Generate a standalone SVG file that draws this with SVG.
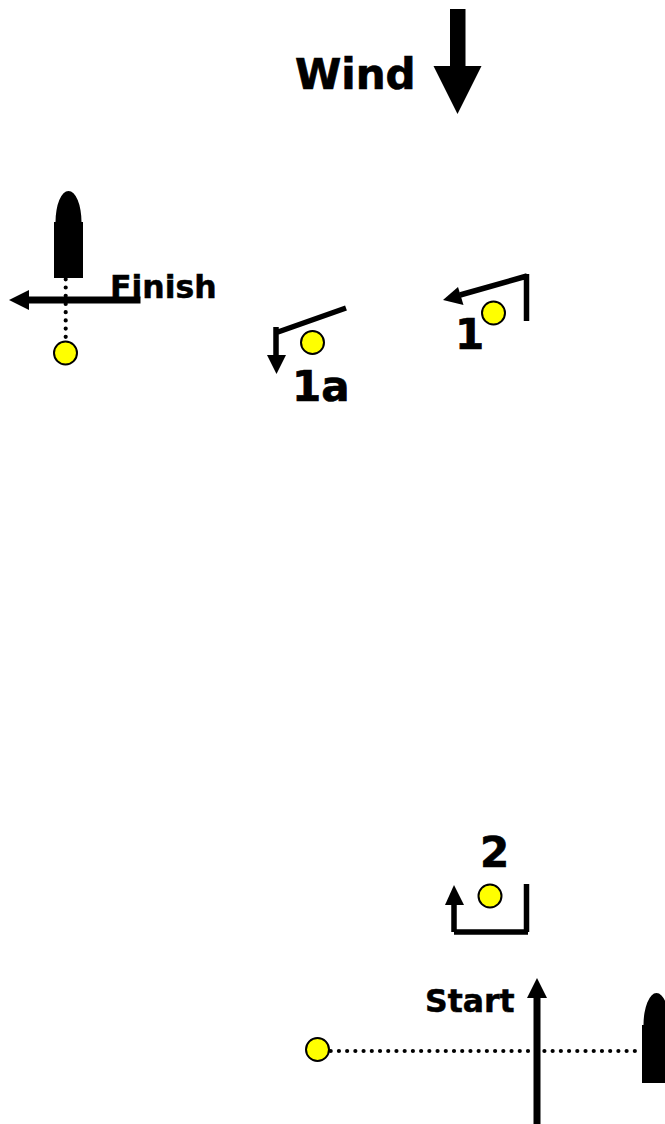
<svg xmlns="http://www.w3.org/2000/svg" width="665" height="1124" viewBox="0 0 665 1124">
<style>
text{font-family:"DejaVu Sans",sans-serif;font-weight:bold;fill:#000;stroke:#000;stroke-width:.7px}
.big{font-size:42px}.mid{font-size:31.5px;stroke-width:.5px}
.mark{fill:#ff0;stroke:#000;stroke-width:2}
.line{fill:none;stroke:#000;stroke-width:5.500}
.thick{fill:none;stroke:#000;stroke-width:7}
.dots{fill:none;stroke:#000;stroke-width:4.200;stroke-linecap:round;stroke-dasharray:0 8.220}
</style>
<defs>
<path id="boat" d="M0 31V87H29V31H27.500A13 31 0 0 0 1.500 31Z"/>
</defs>
<rect width="665" height="1124" fill="#fff"/>
<g id="connectors">
<path class="dots" d="M65.700 279.300V338"/>
<path class="dots" d="M330.700 1051H638"/>
<path class="thick" d="M140.500 300H28"/><path d="M9 300L29 290V310Z"/>
<path class="thick" d="M537 1124V996"/><path d="M537 978L547 998H527Z"/>
<path class="line" d="M526.500 321V274M527 276L460 295"/><path d="M443 300L458 287L463.500 305Z"/>
<path class="line" d="M346 308L278 332M276 327V356"/><path d="M276.500 374L267 355H286Z"/>
<path class="line" d="M526.500 884V932M528 932H454M454 932V903"/><path d="M454 885L464 905H445Z"/>
</g>
<g id="wind"><text class="big" x="295" y="89">Wind</text><path d="M450 9H465.500V66H481.500L457.500 114L433.500 66H450Z"/></g>
<g id="finish-boat"><use href="#boat" x="54" y="191"/></g>
<g id="start-boat"><use href="#boat" transform="translate(642 993) scale(1 1.034)"/></g>
<g id="finish"><text class="mid" x="110" y="298">Finish</text></g>
<g id="start"><text class="mid" x="425" y="1012">Start</text></g>
<g id="finish-mark"><circle class="mark" cx="65.500" cy="353" r="11.500"/></g>
<g id="start-mark"><circle class="mark" cx="317.500" cy="1049.500" r="11.500"/></g>
<g id="mark-1"><circle class="mark" cx="493.500" cy="313" r="11.500"/><text class="big" x="455" y="349">1</text></g>
<g id="mark-1a"><circle class="mark" cx="312.500" cy="342.500" r="11.500"/><text class="big" x="292" y="401">1a</text></g>
<g id="mark-2"><circle class="mark" cx="490" cy="896" r="11.500"/><text class="big" x="480" y="867">2</text></g>
</svg>
